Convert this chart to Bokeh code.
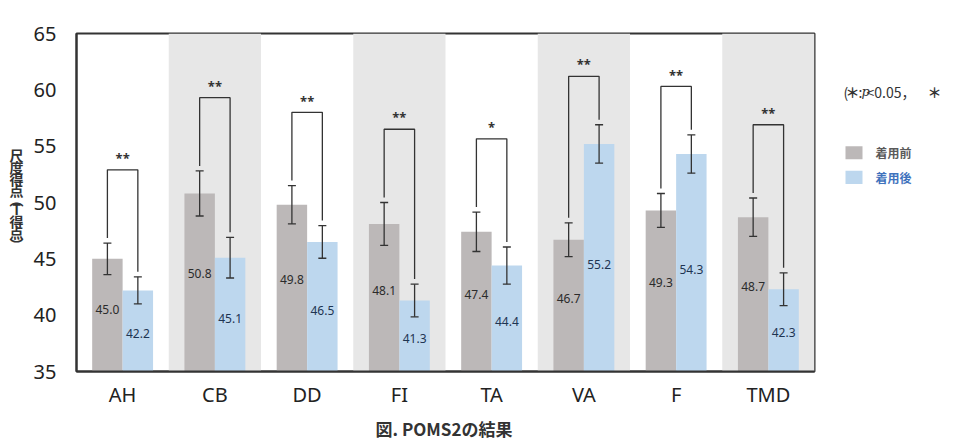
from bokeh.plotting import figure
from bokeh.layouts import row, column
from bokeh.models import (ColumnDataSource, Range1d, FixedTicker, Whisker, TeeHead)
from bokeh.core.properties import value
from bokeh.embed import file_html
from bokeh.resources import INLINE

# POMS2 scale scores (T-scores), before / after wearing
categories = ["AH", "CB", "DD", "FI", "TA", "VA", "F", "TMD"]
before = [45.0, 50.8, 49.8, 48.1, 47.4, 46.7, 49.3, 48.7]
after = [42.2, 45.1, 46.5, 41.3, 44.4, 55.2, 54.3, 42.3]
before_sd = [1.4, 2.0, 1.7, 1.9, 1.75, 1.5, 1.5, 1.7]
after_sd = [1.2, 1.8, 1.45, 1.45, 1.65, 1.7, 1.7, 1.45]
stars = ["**", "**", "**", "**", "*", "**", "**", "**"]
series_names = ["着用前", "着用後"]
y_ticks = [35, 40, 45, 50, 55, 60, 65]
y_title = "尺度得点︵T得点︶"
caption = "図. POMS2の結果"

Y0, Y1 = 35, 65
N = len(categories)
BAR_W = 0.33
OFF = 0.165
GRAY = "#bcb8b8"
BLUE = "#bdd7ee"
BAND = "#e7e7e7"
INK = "#333333"
JP = value("Noto Sans CJK JP")
LAT = value("Noto Sans")

W, H = 964, 445
LEFT_W = 30          # strip holding the vertical axis title
MAIN_W = 786         # chart figure
RIGHT_W = W - LEFT_W - MAIN_W
TOP_H = 411
CAP_H = H - TOP_H


def blank(width, height, x0, x1, y0, y1):
    f = figure(width=width, height=height, x_range=Range1d(x0, x1),
               y_range=Range1d(y0, y1), output_backend="svg",
               toolbar_location=None, x_axis_type=None, y_axis_type=None,
               min_border=0)
    f.outline_line_color = None
    f.xgrid.visible = False
    f.ygrid.visible = False
    f.background_fill_color = "white"
    f.border_fill_color = "white"
    return f


# ---- main chart ----
p = figure(width=MAIN_W, height=TOP_H, x_range=Range1d(0, N),
           y_range=Range1d(Y0, Y1), output_backend="svg", toolbar_location=None,
           min_border_left=43, min_border_right=2, min_border_top=33,
           min_border_bottom=40)
p.background_fill_color = "white"
p.border_fill_color = "white"
p.outline_line_color = INK
p.outline_line_width = 2
p.xgrid.visible = False
p.ygrid.visible = False

# alternating background bands
band_left = [i for i in range(N) if i % 2 == 1]
p.quad(left=band_left, right=[i + 1 for i in band_left], bottom=Y0, top=Y1,
       fill_color=BAND, line_color=None)

centers = [i + 0.5 for i in range(N)]
src_b = ColumnDataSource(dict(
    x=[c - OFF for c in centers], top=before,
    upper=[v + s for v, s in zip(before, before_sd)],
    lower=[v - s for v, s in zip(before, before_sd)],
    ly=[Y0 + (v - Y0) * 0.55 for v in before],
    lab=[f"{v:.1f}" for v in before]))
src_a = ColumnDataSource(dict(
    x=[c + OFF for c in centers], top=after,
    upper=[v + s for v, s in zip(after, after_sd)],
    lower=[v - s for v, s in zip(after, after_sd)],
    ly=[Y0 + (v - Y0) * 0.47 for v in after],
    lab=[f"{v:.1f}" for v in after]))

p.vbar(x="x", top="top", bottom=Y0, width=BAR_W, source=src_b,
       fill_color=GRAY, line_color=None)
p.vbar(x="x", top="top", bottom=Y0, width=BAR_W, source=src_a,
       fill_color=BLUE, line_color=None)

for src in (src_b, src_a):
    p.add_layout(Whisker(source=src, base="x", upper="upper", lower="lower",
                         level="annotation", line_color=INK, line_width=1.3,
                         upper_head=TeeHead(size=8, line_color=INK, line_width=1.3),
                         lower_head=TeeHead(size=8, line_color=INK, line_width=1.3)))

p.text(x="x", y="ly", text="lab", source=src_b, text_align="center",
       text_baseline="middle", text_font_size="12px", text_font=LAT,
       text_color="#2b2b2b")
p.text(x="x", y="ly", text="lab", source=src_a, text_align="center",
       text_baseline="middle", text_font_size="12px", text_font=LAT,
       text_color="#1e3452")

# significance brackets
xs, ys, sx, sy = [], [], [], []
for i in range(N):
    tb = before[i] + before_sd[i]
    ta = after[i] + after_sd[i]
    top = max(tb, ta) + (6.5 if tb >= ta else 4.3)
    xl, xr = centers[i] - OFF, centers[i] + OFF
    xs.append([xl, xl, xr, xr])
    ys.append([tb + 0.45, top, top, ta + 0.45])
    sx.append(centers[i])
    sy.append(top + 0.25)
p.multi_line(xs=xs, ys=ys, line_color=INK, line_width=1.3)
p.text(x=sx, y=sy, text=stars, text_align="center", text_baseline="bottom",
       text_font_size="13px", text_font=LAT, text_font_style="bold",
       text_color=INK)

# axes
p.yaxis.ticker = FixedTicker(ticks=y_ticks)
p.xaxis.ticker = FixedTicker(ticks=centers)
p.xaxis.major_label_overrides = {c: name for c, name in zip(centers, categories)}
for ax in (p.xaxis[0], p.yaxis[0]):
    ax.axis_line_color = INK
    ax.axis_line_width = 2
    ax.major_tick_line_color = None
    ax.minor_tick_line_color = None
    ax.major_label_text_font = "Noto Sans"
    ax.major_label_text_font_size = "20px"
    ax.major_label_text_color = "#222222"
p.yaxis.major_label_standoff = 14
p.xaxis.major_label_standoff = 3

# ---- vertical axis title, one character per line ----
lt = blank(LEFT_W, TOP_H, 0, LEFT_W, TOP_H, 0)
tx, ty = [], []
py = 148
for ch in y_title:
    small = ch in "︵︶"
    tx.append(16)
    ty.append(py - (3 if ch == "︵" else 0))
    py += 14.2 * (0.6 if small else 1.0)
lt.text(x=tx, y=ty, text=list(y_title), text_align="center",
        text_baseline="middle", text_font=JP, text_font_size="14px",
        text_font_style="bold", text_color=INK)

# ---- note and legend on the right ----
x_off = LEFT_W + MAIN_W
rt = blank(RIGHT_W, TOP_H, x_off, W, TOP_H, 0)
note_y = 71
rt.text(x=[843, 858, 866], y=[note_y] * 3, text=["(", ":", "<0.05，"],
        text_baseline="middle", text_font=JP, text_font_size="14px",
        text_color=INK)
rt.text(x=[861], y=[note_y], text=["p"], text_baseline="middle",
        text_font=value("DejaVu Serif"), text_font_style="italic",
        text_font_size="13px", text_color=INK)
rt.text(x=[852, 934], y=[note_y, note_y], text=["＊", "＊"], text_align="center",
        text_baseline="middle", text_font=JP, text_font_size="14px",
        text_font_style="bold", text_color=INK)

swatch_y = [145, 175]
rt.rect(x=[853.5, 853.5], y=swatch_y, width=17, height=16,
        fill_color=[GRAY, BLUE], line_color=None)
rt.text(x=[875, 875], y=swatch_y, text=series_names, text_baseline="middle",
        text_font=JP, text_font_size="12px", text_font_style="bold",
        text_color=["#5a5a5a", "#3f73bd"])

# ---- caption ----
cp = blank(W, CAP_H, 0, W, CAP_H, 0)
cp.text(x=[443.5], y=[17], text=[caption], text_align="center",
        text_baseline="middle", text_font=JP, text_font_size="17px",
        text_font_style="bold", text_color=INK)

layout = column(row(lt, p, rt), cp)
open("out.html", "w").write(file_html(layout, INLINE))
